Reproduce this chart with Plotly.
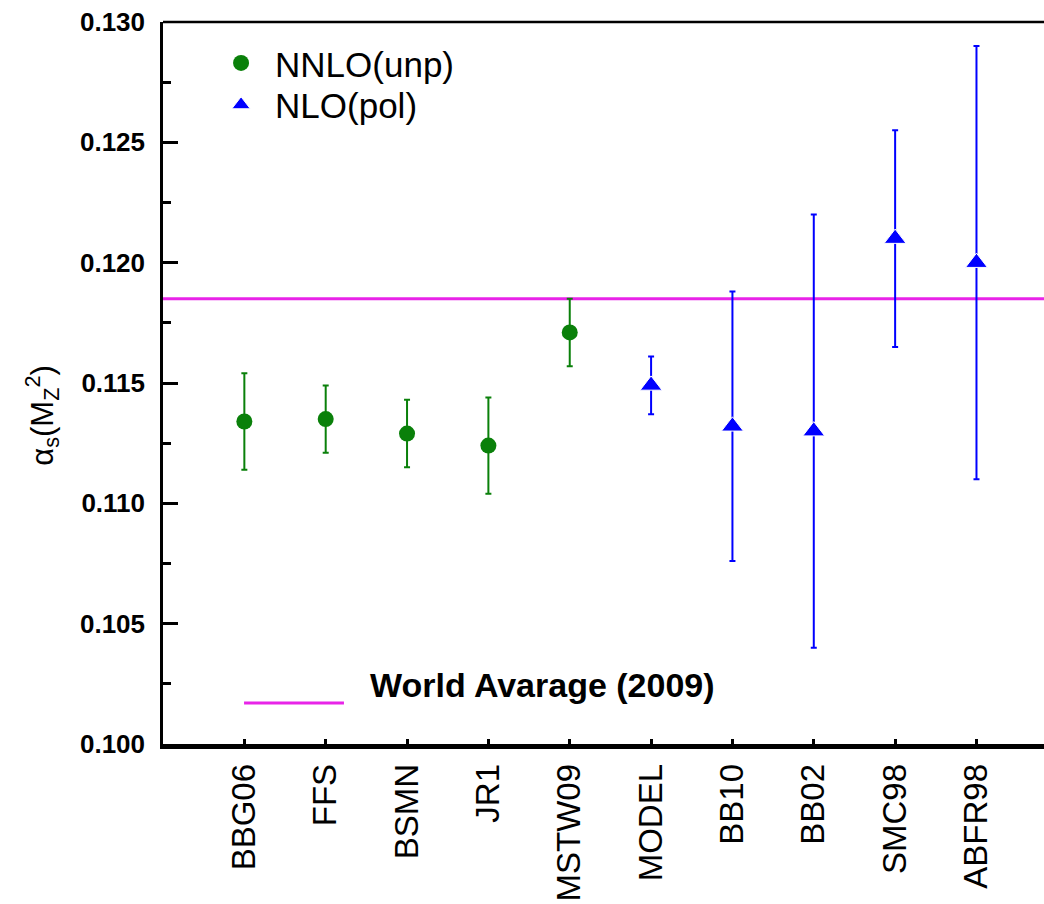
import plotly.graph_objects as go

# ---- data ----
categories = ["BBG06", "FFS", "BSMN", "JR1", "MSTW09", "MODEL", "BB10", "BB02", "SMC98", "ABFR98"]
unp_names = ["BBG06", "FFS", "BSMN", "JR1", "MSTW09"]
unp_values = [0.1134, 0.1135, 0.1129, 0.1124, 0.1171]
unp_errors = [0.0020, 0.0014, 0.0014, 0.0020, 0.0014]
pol_names = ["MODEL", "BB10", "BB02", "SMC98", "ABFR98"]
pol_values = [0.1149, 0.1132, 0.1130, 0.1210, 0.1200]
pol_errors = [0.0012, 0.0056, 0.0090, 0.0045, 0.0090]
world_average = 0.1185
y_tickvals = [0.100, 0.105, 0.110, 0.115, 0.120, 0.125, 0.130]
y_ticktext = ["0.100", "0.105", "0.110", "0.115", "0.120", "0.125", "0.130"]

GREEN = "#0a800a"
BLUE = "#0000ff"
MAGENTA = "#e824e8"
FONT = "Arial, Liberation Sans, sans-serif"

fig = go.Figure()
fig.add_trace(go.Scatter(
    x=unp_names, y=unp_values, mode="markers", name="NNLO(unp)",
    marker=dict(symbol="circle", size=16, color=GREEN),
    error_y=dict(type="data", array=unp_errors, visible=True,
                 color=GREEN, thickness=2, width=3),
    legend="legend",
))
fig.add_trace(go.Scatter(
    x=pol_names, y=pol_values, mode="markers", name="NLO(pol)",
    marker=dict(symbol="triangle-up", size=19, color=BLUE,
                line=dict(color="white", width=1)),
    error_y=dict(type="data", array=pol_errors, visible=True,
                 color=BLUE, thickness=2, width=3),
    legend="legend2",
))

# world average line
fig.add_shape(type="line", xref="paper", x0=0, x1=1, yref="y",
              y0=world_average, y1=world_average,
              line=dict(color=MAGENTA, width=3), layer="below")
# top frame line
fig.add_shape(type="line", xref="paper", yref="paper", x0=0, x1=1, y0=1, y1=1,
              line=dict(color="black", width=2.5))
# world average legend entry
fig.add_shape(type="line", xref="paper", yref="paper", x0=0.092, x1=0.2054,
              y0=0.0568, y1=0.0568, line=dict(color=MAGENTA, width=3))
fig.add_annotation(xref="paper", yref="paper", x=0.233, y=0.0817,
                   xanchor="left", yanchor="middle", showarrow=False,
                   text="World Avarage (2009)",
                   font=dict(family=FONT, size=34, color="black", weight="bold"))
# y-axis title
fig.add_annotation(xref="paper", yref="paper", x=-0.137, y=0.455,
                   xanchor="center", yanchor="middle", showarrow=False,
                   textangle=-90,
                   text="α<sub>s</sub>(M<sub>Z</sub><sup>2</sup>)",
                   font=dict(family=FONT, size=31, color="black"))

legend_common = dict(xanchor="left", yanchor="middle",
                     font=dict(family=FONT, size=35, color="black"),
                     bgcolor="rgba(0,0,0,0)", itemsizing="trace",
                     itemwidth=58)

fig.update_layout(
    width=1044, height=904,
    margin=dict(l=163, r=0, t=22, b=160),
    paper_bgcolor="white", plot_bgcolor="white",
    font=dict(family=FONT, color="black"),
    showlegend=True,
    legend=dict(x=0.05, y=0.9430, **legend_common),
    legend2=dict(x=0.05, y=0.885, **legend_common),
    xaxis=dict(
        type="category", categoryorder="array", categoryarray=categories,
        range=[-1, 9.83], showgrid=False, zeroline=False, automargin=False,
        showline=True, linecolor="black", linewidth=4.5,
        ticks="inside", ticklen=5, tickwidth=3, tickcolor="black",
        tickangle=-90, tickfont=dict(family=FONT, size=33, color="black"),
        ticklabelstandoff=2,
    ),
    yaxis=dict(
        range=[0.100, 0.130], showgrid=False, zeroline=False, automargin=False,
        showline=True, linecolor="black", linewidth=2.5,
        tickvals=y_tickvals, ticktext=y_ticktext,
        ticks="inside", ticklen=15, tickwidth=2.5, tickcolor="black",
        tickfont=dict(family=FONT, size=26, color="black", weight="bold"),
        ticklabelstandoff=10,
        minor=dict(dtick=0.0025, tick0=0.100, ticks="inside", ticklen=8,
                   tickwidth=2.5, tickcolor="black", showgrid=False),
    ),
)

fig.write_html("out.html", config={"displayModeBar": False},
               post_script="document.body.style.margin='0';")
